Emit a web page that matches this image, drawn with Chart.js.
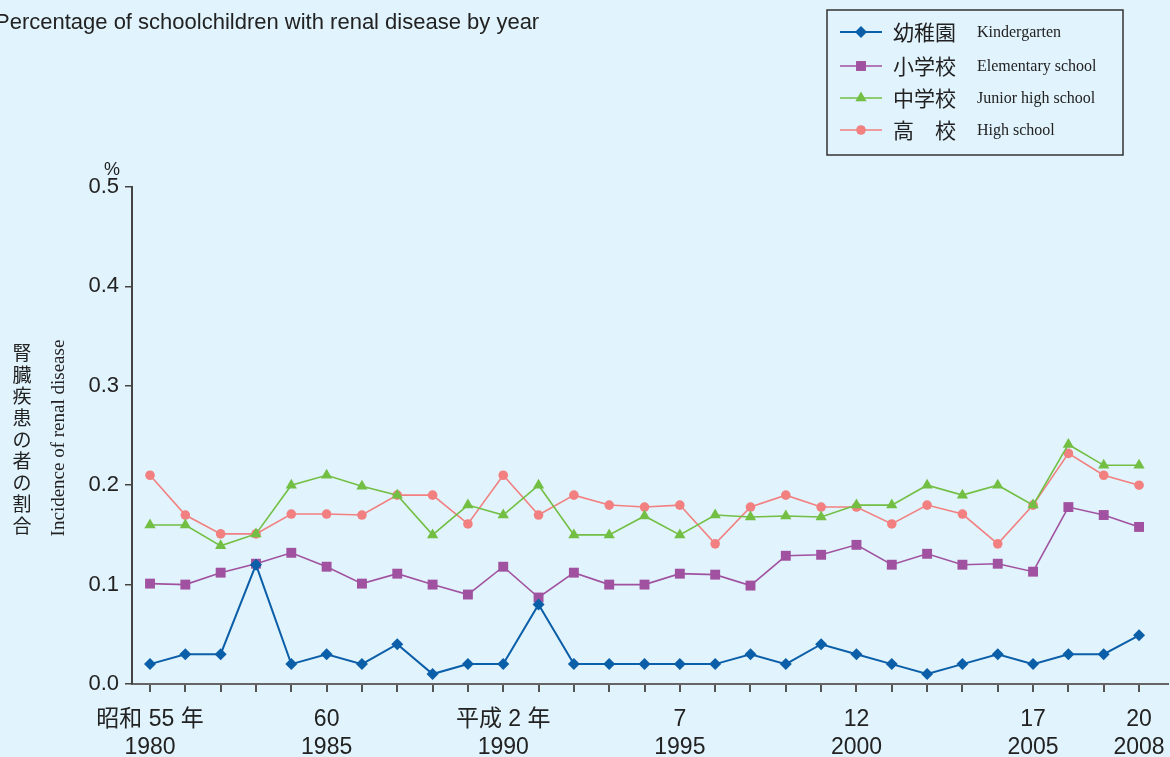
<!DOCTYPE html>
<html>
<head>
<meta charset="utf-8">
<script src="https://cdn.jsdelivr.net/npm/chart.js@4.4.0/dist/chart.umd.min.js"></script>
<style>
  html, body { margin: 0; padding: 0; background: #e1f3fc; }
</style>
</head>
<body>
<canvas id="grafico" width="1170" height="757"></canvas>
<script>
var anos = [1980, 1981, 1982, 1983, 1984, 1985, 1986, 1987, 1988, 1989, 1990, 1991, 1992, 1993, 1994,
            1995, 1996, 1997, 1998, 1999, 2000, 2001, 2002, 2003, 2004, 2005, 2006, 2007, 2008];

// era labels shown under the axis
var rotulosEra = { 1980: "昭和 55 年", 1985: "60", 1990: "平成 2 年", 1995: "7", 2000: "12", 2005: "17", 2008: "20" };

var yTicks = [0.0, 0.1, 0.2, 0.3, 0.4, 0.5];

var jardim = [0.02, 0.03, 0.03, 0.12, 0.02, 0.03, 0.02, 0.04, 0.01, 0.02, 0.02, 0.08, 0.02, 0.02, 0.02,
              0.02, 0.02, 0.03, 0.02, 0.04, 0.03, 0.02, 0.01, 0.02, 0.03, 0.02, 0.03, 0.03, 0.049];
var fundamental = [0.101, 0.10, 0.112, 0.121, 0.132, 0.118, 0.101, 0.111, 0.10, 0.09, 0.118, 0.087, 0.112, 0.10, 0.10,
                   0.111, 0.11, 0.099, 0.129, 0.13, 0.14, 0.12, 0.131, 0.12, 0.121, 0.113, 0.178, 0.17, 0.158];
var ginasio = [0.16, 0.16, 0.139, 0.151, 0.20, 0.21, 0.199, 0.19, 0.15, 0.18, 0.17, 0.20, 0.15, 0.15, 0.169,
               0.15, 0.17, 0.168, 0.169, 0.168, 0.18, 0.18, 0.20, 0.19, 0.20, 0.18, 0.241, 0.22, 0.22];
var colegial = [0.21, 0.17, 0.151, 0.151, 0.171, 0.171, 0.17, 0.19, 0.19, 0.161, 0.21, 0.17, 0.19, 0.18, 0.178,
                0.18, 0.141, 0.178, 0.19, 0.178, 0.178, 0.161, 0.18, 0.171, 0.141, 0.18, 0.232, 0.21, 0.20];

var nomesJp = ["幼稚園", "小学校", "中学校", "高　校"];
var nomesEn = ["Kindergarten", "Elementary school", "Junior high school", "High school"];
var cores = ["#0b5ea8", "#a052a0", "#72bf44", "#f28080"];
var marcadores = ["rectRot", "rect", "triangle", "circle"];
var raios = [6, 7, 6.5, 4.8];

function serie(valores, i) {
  return {
    label: nomesJp[i],
    data: anos.map(function (a, k) { return { x: a, y: valores[k] }; }),
    borderColor: cores[i],
    backgroundColor: cores[i],
    borderWidth: i === 0 ? 2 : 1.6,
    pointStyle: marcadores[i],
    pointRadius: raios[i],
    pointBorderWidth: 0,
    tension: 0
  };
}

var textos = {
  id: "textos",
  beforeDraw: function (chart) {
    var ctx = chart.ctx;
    ctx.save();
    ctx.fillStyle = "#e1f3fc";
    ctx.fillRect(0, 0, chart.width, chart.height);
    ctx.restore();
  },
  afterDraw: function (chart) {
    var ctx = chart.ctx;
    ctx.save();
    ctx.fillStyle = "#222";
    ctx.textBaseline = "middle";

    ctx.font = "22px 'Liberation Sans', Arial, sans-serif";
    ctx.textAlign = "left";
    ctx.fillText("Percentage of schoolchildren with renal disease by year", -5, 23);

    ctx.font = "18px 'Liberation Sans', Arial, sans-serif";
    ctx.textAlign = "center";
    ctx.fillText("%", 112, 170);

    // vertical japanese title
    ctx.font = "19px 'Noto Sans CJK JP', sans-serif";
    var vert = "腎臓疾患の者の割合";
    for (var i = 0; i < vert.length; i++) {
      ctx.fillText(vert[i], 22, 353 + i * 21.6);
    }

    ctx.save();
    ctx.translate(59, 438);
    ctx.rotate(-Math.PI / 2);
    ctx.font = "19px 'Liberation Serif', 'Times New Roman', serif";
    ctx.fillText("Incidence of renal disease", 0, 0);
    ctx.restore();

    // legend
    ctx.strokeStyle = "#333";
    ctx.lineWidth = 1.5;
    ctx.strokeRect(827, 10, 296, 145);
    var linhas = [32, 66, 98, 130];
    chart.data.datasets.forEach(function (ds, k) {
      var y = linhas[k];
      ctx.strokeStyle = ds.borderColor;
      ctx.lineWidth = ds.borderWidth;
      ctx.beginPath();
      ctx.moveTo(840, y);
      ctx.lineTo(882, y);
      ctx.stroke();
      ctx.fillStyle = ds.backgroundColor;
      Chart.helpers.drawPoint(ctx, { pointStyle: ds.pointStyle, radius: ds.pointRadius, rotation: 0, borderWidth: 0 }, 861, y);
      ctx.fillStyle = "#222";
      ctx.textAlign = "left";
      ctx.font = "21px 'Noto Sans CJK JP', sans-serif";
      ctx.fillText(nomesJp[k], 893, y);
      ctx.font = "16px 'Liberation Serif', 'Times New Roman', serif";
      ctx.fillText(nomesEn[k], 977, y + 1);
    });
    ctx.restore();
  }
};

new Chart(document.getElementById("grafico").getContext("2d"), {
  type: "line",
  data: {
    datasets: [serie(jardim, 0), serie(fundamental, 1), serie(ginasio, 2), serie(colegial, 3)]
  },
  options: {
    responsive: false,
    animation: false,
    layout: { autoPadding: false, padding: { top: 187, left: 0, right: 2, bottom: 0 } },
    plugins: {
      legend: { display: false },
      title: { display: false },
      tooltip: { enabled: false }
    },
    scales: {
      x: {
        type: "linear",
        min: 1979.49,
        max: 2008.82,
        afterBuildTicks: function (axis) {
          axis.ticks = anos.map(function (a) { return { value: a }; });
        },
        afterFit: function (s) {
          s.height = 73;
          s.paddingLeft = 0;
          s.paddingRight = 0;
        },
        grid: { drawOnChartArea: false, drawTicks: true, tickLength: 8, color: "#555", lineWidth: 2 },
        border: { color: "#666", width: 2 },
        ticks: {
          autoSkip: false,
          maxRotation: 0,
          padding: 13,
          color: "#222",
          font: { family: "'Liberation Sans', Arial, 'Noto Sans CJK JP', sans-serif", size: 23, lineHeight: 1.25 },
          callback: function (v) {
            return rotulosEra[v] ? [rotulosEra[v], String(v)] : "";
          }
        }
      },
      y: {
        min: 0,
        max: 0.5,
        afterBuildTicks: function (axis) {
          axis.ticks = yTicks.map(function (v) { return { value: v }; });
        },
        afterFit: function (s) { s.width = 132; },
        grid: { drawOnChartArea: false, drawTicks: true, tickLength: 7, color: "#444", lineWidth: 1.5 },
        border: { color: "#444", width: 2 },
        ticks: {
          padding: 6,
          color: "#222",
          font: { family: "'Liberation Sans', Arial, sans-serif", size: 22 },
          callback: function (v) { return v.toFixed(1); }
        }
      }
    }
  },
  plugins: [textos]
});
</script>
</body>
</html>
